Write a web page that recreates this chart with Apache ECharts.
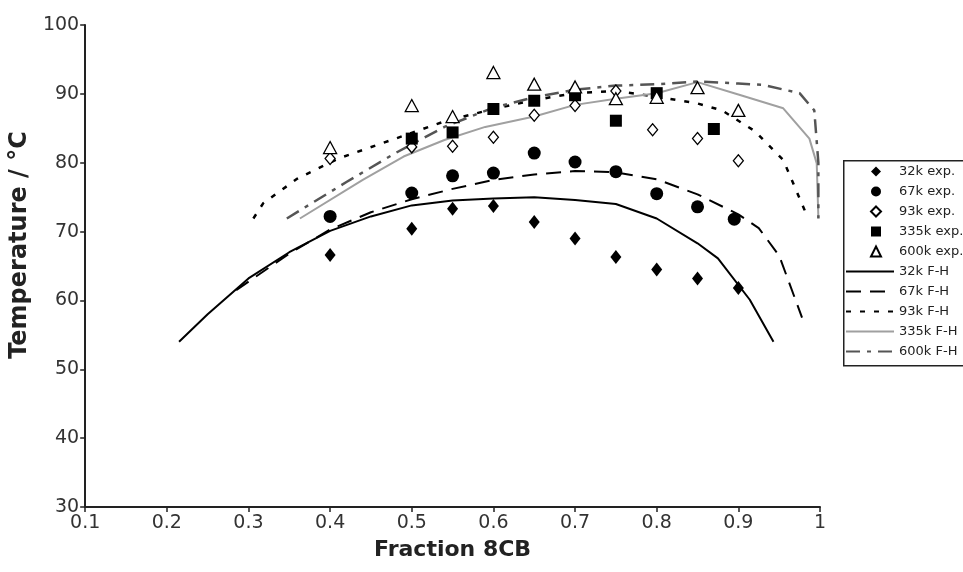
<!DOCTYPE html>
<html>
<head>
<meta charset="utf-8">
<script src="https://cdn.jsdelivr.net/npm/echarts@6/dist/echarts.min.js"></script>
<style>
  html, body { margin: 0; padding: 0; background: #fff; }
  #chart { width: 963px; height: 572px; }
</style>
</head>
<body>
<div id="chart"></div>
<script>
// experimental points
const exp32X = [0.4, 0.5, 0.55, 0.6, 0.65, 0.7, 0.75, 0.8, 0.85, 0.9]
const exp32Y = [66.6, 70.4, 73.3, 73.7, 71.4, 69.0, 66.3, 64.5, 63.2, 61.8]
const exp67X = [0.4, 0.5, 0.55, 0.6, 0.65, 0.7, 0.75, 0.8, 0.85, 0.895]
const exp67Y = [72.2, 75.6, 78.1, 78.5, 81.4, 80.1, 78.7, 75.5, 73.6, 71.8]
const exp93X = [0.4, 0.5, 0.55, 0.6, 0.65, 0.7, 0.75, 0.795, 0.85, 0.9]
const exp93Y = [80.6, 82.3, 82.4, 83.7, 86.9, 88.3, 90.4, 84.8, 83.5, 80.3]
const exp335X = [0.5, 0.55, 0.6, 0.65, 0.7, 0.75, 0.8, 0.87]
const exp335Y = [83.5, 84.4, 87.8, 89.0, 89.8, 86.1, 90.1, 84.9]
const exp600X = [0.4, 0.5, 0.55, 0.6, 0.65, 0.7, 0.75, 0.8, 0.85, 0.9]
const exp600Y = [82.2, 88.3, 86.7, 93.1, 91.4, 91.0, 89.3, 89.5, 90.9, 87.6]

// Flory-Huggins curves
const fh32X = [0.215, 0.25, 0.3, 0.35, 0.4, 0.45, 0.5, 0.55, 0.6, 0.65, 0.7, 0.75, 0.8, 0.85, 0.875, 0.914, 0.943]
const fh32Y = [54, 58, 63.2, 67, 70.1, 72.2, 73.8, 74.5, 74.8, 75, 74.6, 74.0, 71.9, 68.3, 66.1, 60.1, 54]
const fh67X = [0.285, 0.35, 0.4, 0.45, 0.5, 0.55, 0.6, 0.65, 0.7, 0.75, 0.8, 0.85, 0.9, 0.925, 0.95, 0.978]
const fh67Y = [61.5, 66.8, 70.3, 72.8, 74.7, 76.2, 77.5, 78.3, 78.8, 78.6, 77.6, 75.4, 72.5, 70.5, 66.5, 57.5]
const fh93X = [0.306, 0.318, 0.36, 0.41, 0.48, 0.54, 0.6, 0.65, 0.7, 0.75, 0.8, 0.85, 0.88, 0.92, 0.955, 0.983]
const fh93Y = [71.9, 74.1, 77.7, 80.6, 83.5, 86, 87.8, 89.1, 90.1, 90.4, 89.6, 88.6, 87.6, 84.6, 80.4, 72.6]
const fh335X = [0.363, 0.44, 0.49, 0.54, 0.59, 0.65, 0.7, 0.75, 0.8, 0.85, 0.9, 0.955, 0.987, 0.996, 0.998]
const fh335Y = [71.9, 77.5, 80.9, 83.3, 85.2, 86.7, 88.4, 89.3, 90.1, 91.7, 89.9, 87.9, 83.5, 79.9, 72]
const fh600X = [0.347, 0.42, 0.48, 0.54, 0.6, 0.65, 0.7, 0.75, 0.8, 0.85, 0.9, 0.93, 0.975, 0.993, 0.998, 0.998]
const fh600Y = [71.9, 77.2, 81.4, 85.2, 88, 89.5, 90.6, 91.2, 91.4, 91.8, 91.5, 91.3, 90.1, 87.6, 80, 71.9]

const expNames = ['32k exp.', '67k exp.', '93k exp.', '335k exp.', '600k exp.']
const fhNames = ['32k F-H', '67k F-H', '93k F-H', '335k F-H', '600k F-H']

const zip = (xs, ys) => xs.map((x, i) => [x, ys[i]])

const font = 'DejaVu Sans'
const chart = echarts.init(document.getElementById('chart'))

const scatter = (name, xs, ys, symbol, size, open) => ({
  name,
  type: 'scatter',
  data: zip(xs, ys),
  symbol,
  symbolSize: size,
  z: 5,
  itemStyle: open
    ? { color: '#fff', borderColor: '#000', borderWidth: 1.3, opacity: 1 }
    : { color: '#000', opacity: 1 },
})

const line = (name, xs, ys, color, width, dash) => ({
  name,
  type: 'line',
  data: zip(xs, ys),
  symbol: 'none',
  showSymbol: false,
  z: 2,
  lineStyle: { color, width, type: dash },
  itemStyle: { color },
})

const legendText = { fontFamily: font, fontSize: 13, color: '#222' }

const option = {
  backgroundColor: '#fff',
  animation: false,
  grid: { left: 85, right: 143, top: 25, bottom: 65 },
  xAxis: {
    type: 'value',
    min: 0.1,
    max: 1,
    interval: 0.1,
    name: 'Fraction 8CB',
    nameLocation: 'middle',
    nameGap: 32,
    nameTextStyle: { fontFamily: font, fontWeight: 'bold', fontSize: 22, color: '#222' },
    axisLine: { lineStyle: { color: '#222', width: 2 } },
    axisTick: { length: 5, lineStyle: { color: '#222', width: 1.5 } },
    axisLabel: {
      fontFamily: font, fontSize: 19, color: '#333', margin: 7,
      formatter: v => String(Math.round(v * 10) / 10),
    },
    splitLine: { show: false },
  },
  yAxis: {
    type: 'value',
    min: 30,
    max: 100,
    interval: 10,
    name: 'Temperature / °C',
    nameLocation: 'middle',
    nameGap: 49,
    nameTextStyle: { fontFamily: font, fontWeight: 'bold', fontSize: 24, color: '#222', padding: [0, 0, 0, 42] },
    axisLine: { show: true, lineStyle: { color: '#222', width: 2 } },
    axisTick: { show: true, length: 5, lineStyle: { color: '#222', width: 1.5 } },
    axisLabel: { fontFamily: font, fontSize: 19, color: '#333', margin: 6 },
    splitLine: { show: false },
  },
  // legend box drawn once, two legends inside it
  graphic: [{
    type: 'rect',
    left: 843,
    top: 160,
    shape: { width: 130, height: 205 },
    style: { fill: '#fff', stroke: '#222', lineWidth: 1.5 },
    z: 0,
  }],
  legend: [
    {
      data: expNames,
      orient: 'vertical',
      left: 870,
      top: 165,
      padding: 0,
      itemWidth: 10,
      itemHeight: 10,
      itemGap: 7,
      textStyle: Object.assign({ padding: [0, 0, 0, 13] }, legendText),
    },
    {
      data: fhNames,
      orient: 'vertical',
      left: 845,
      top: 265,
      padding: 0,
      itemWidth: 48,
      itemHeight: 10,
      itemGap: 7,
      itemStyle: { opacity: 0 },
      textStyle: legendText,
    },
  ],
  series: [
    scatter(expNames[0], exp32X, exp32Y, 'diamond', [11, 14], false),
    scatter(expNames[1], exp67X, exp67Y, 'circle', 13, false),
    scatter(expNames[2], exp93X, exp93Y, 'diamond', [10, 12], true),
    scatter(expNames[3], exp335X, exp335Y, 'rect', 12, false),
    scatter(expNames[4], exp600X, exp600Y, 'triangle', [13, 12], true),
    line(fhNames[0], fh32X, fh32Y, '#000', 2, 'solid'),
    line(fhNames[1], fh67X, fh67Y, '#000', 2, [15, 9]),
    line(fhNames[2], fh93X, fh93Y, '#000', 2.5, [5, 9]),
    line(fhNames[3], fh335X, fh335Y, '#a0a0a0', 2, 'solid'),
    line(fhNames[4], fh600X, fh600Y, '#555', 2.5, [14, 7, 4, 7]),
  ],
}

chart.setOption(option)
</script>
</body>
</html>
